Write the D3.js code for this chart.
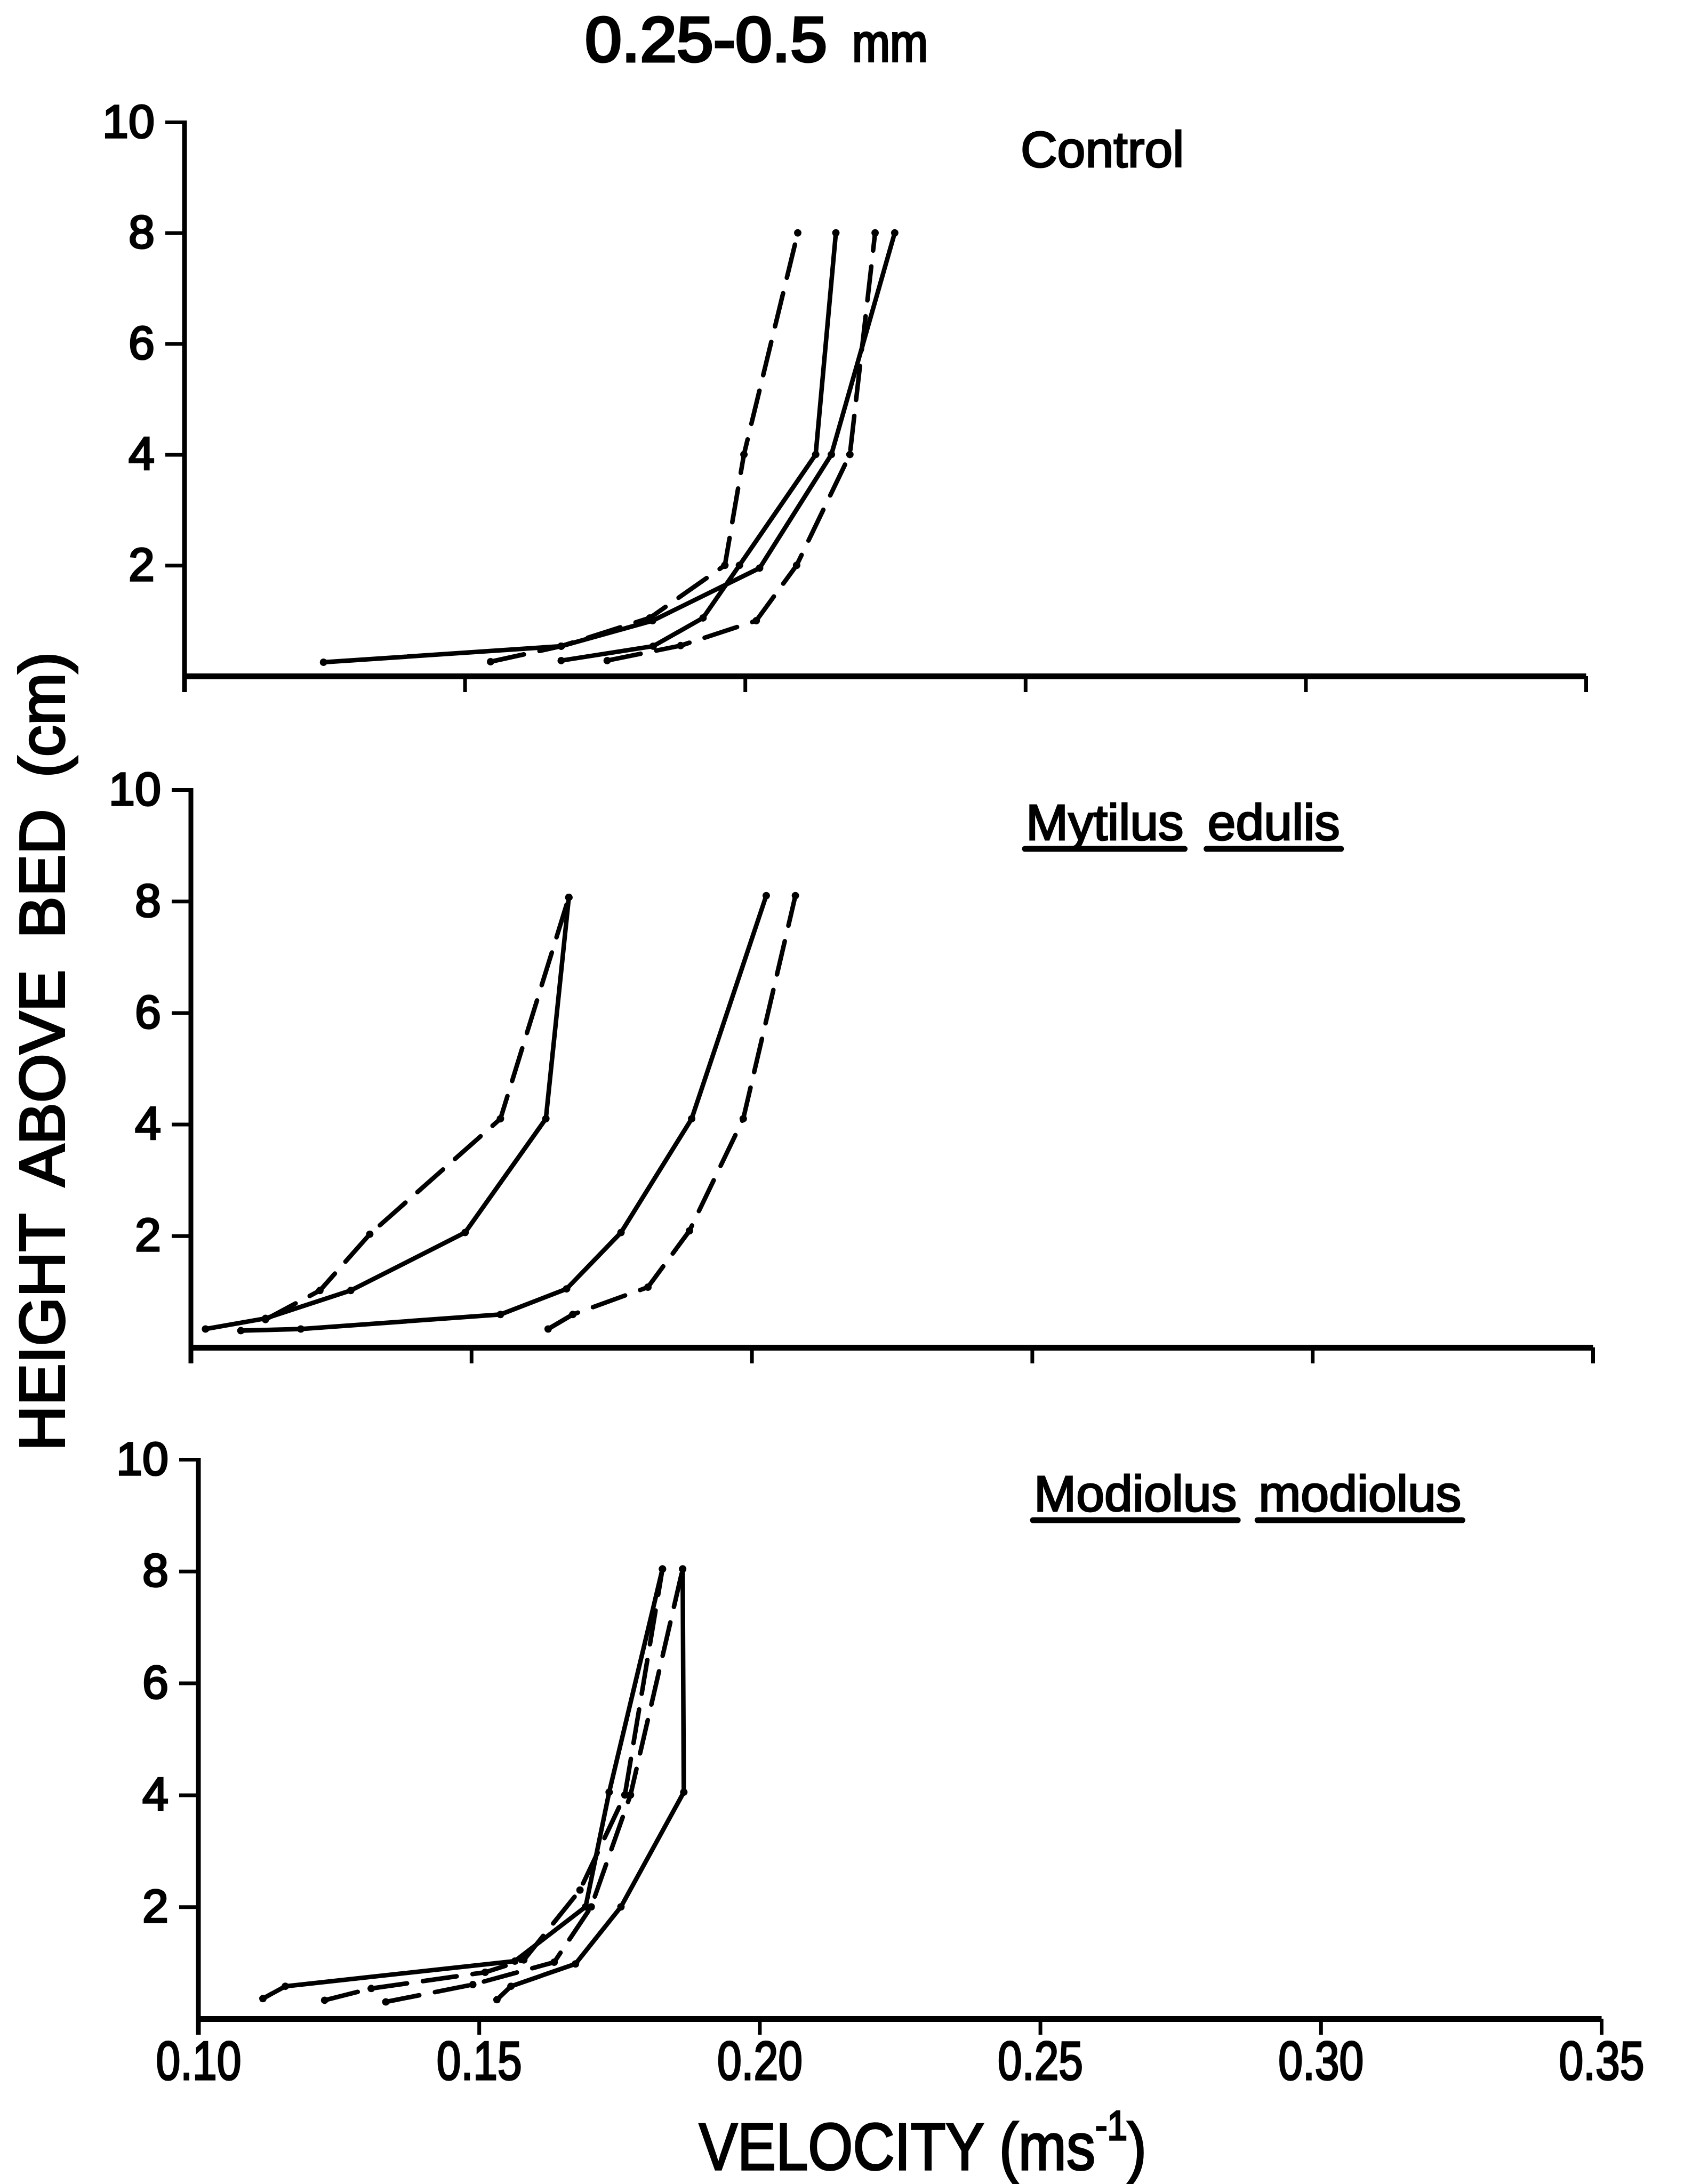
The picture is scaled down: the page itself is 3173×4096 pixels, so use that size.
<!DOCTYPE html>
<html>
<head>
<meta charset="utf-8">
<script src="https://cdn.jsdelivr.net/npm/d3@7"></script>
<style>
  html, body { margin: 0; padding: 0; background: #fff; }
  svg { display: block; }
  text { font-family: "Liberation Sans", Arial, Helvetica, sans-serif; fill: #000; }
</style>
</head>
<body>
<svg id="chart" width="3173" height="4096"></svg>
<script>
// Axis ticks: velocity (m/s) and height above bed (cm)
const velocityTicks = [0.10, 0.15, 0.20, 0.25, 0.30, 0.35];
const heightTicks = [2, 4, 6, 8, 10];
const panelNames = ["Control", "Mytilus edulis", "Modiolus modiolus"];

// Velocity profiles, [velocity m/s, height cm]
const controlSolidA  = [[0.1248, 0.25], [0.1672, 0.54], [0.1835, 1.0], [0.2026, 1.95], [0.2154, 4.0], [0.2267, 8.0]];
const controlSolidB  = [[0.1672, 0.28], [0.1836, 0.54], [0.1925, 1.05], [0.1990, 2.0], [0.2126, 4.0], [0.2162, 8.0]];
const controlDashedA = [[0.1546, 0.26], [0.1672, 0.54], [0.1830, 1.05], [0.1964, 2.0], [0.1998, 4.0], [0.2094, 8.0]];
const controlDashedB = [[0.1754, 0.28], [0.1885, 0.55], [0.2020, 1.0], [0.2092, 2.0], [0.2187, 4.0], [0.2232, 8.0]];

const mytilusSolidA  = [[0.1026, 0.33], [0.1133, 0.52], [0.1285, 1.02], [0.1489, 2.06], [0.1633, 4.1], [0.1674, 8.07]];
const mytilusDashedA = [[0.1133, 0.50], [0.1230, 1.02], [0.1319, 2.03], [0.1552, 4.1], [0.1674, 8.07]];
const mytilusSolidB  = [[0.1089, 0.30], [0.1196, 0.33], [0.1552, 0.59], [0.1670, 1.05], [0.1767, 2.06], [0.1893, 4.1], [0.2026, 8.1]];
const mytilusDashedB = [[0.1637, 0.33], [0.1681, 0.59], [0.1815, 1.08], [0.1889, 2.09], [0.1985, 4.1], [0.2078, 8.1]];

const modiolusSolidA  = [[0.1115, 0.36], [0.1155, 0.58], [0.1564, 1.03], [0.1690, 2.0], [0.1732, 4.05], [0.1827, 8.04]];
const modiolusSolidB  = [[0.1532, 0.34], [0.1557, 0.58], [0.1672, 0.98], [0.1753, 2.0], [0.1865, 4.05], [0.1863, 8.04]];
const modiolusDashedA = [[0.1225, 0.33], [0.1308, 0.54], [0.1511, 0.83], [0.1580, 1.05], [0.1680, 2.3], [0.1760, 4.0], [0.1827, 8.04]];
const modiolusDashedB = [[0.1334, 0.30], [0.1489, 0.61], [0.1634, 1.01], [0.1700, 2.0], [0.1770, 4.0], [0.1863, 8.04]];

const svg = d3.select("#chart");
const ink = "#000";

// Panel frames and label placement
const panels = [
  { name: panelNames[0], frame: { left: 346, right: 2974, top: 229, bottom: 1268 },
    label: { x: 1914, y: 313, underline: false }, tickLabels: false,
    series: [
      { data: controlSolidA, dashed: false }, { data: controlSolidB, dashed: false },
      { data: controlDashedA, dashed: true }, { data: controlDashedB, dashed: true } ] },
  { name: panelNames[1], frame: { left: 358, right: 2987, top: 1481, bottom: 2527 },
    label: { x: 1924, y: 1575, underline: true, gap: 45 }, tickLabels: false,
    series: [
      { data: mytilusSolidA, dashed: false }, { data: mytilusDashedA, dashed: true },
      { data: mytilusSolidB, dashed: false }, { data: mytilusDashedB, dashed: true } ] },
  { name: panelNames[2], frame: { left: 372, right: 3003, top: 2737, bottom: 3786 },
    label: { x: 1939, y: 2834, underline: true, gap: 41 }, tickLabels: true,
    series: [
      { data: modiolusSolidA, dashed: false }, { data: modiolusSolidB, dashed: false },
      { data: modiolusDashedA, dashed: true }, { data: modiolusDashedB, dashed: true } ] }
];

panels.forEach(p => {
  const f = p.frame;
  const x = d3.scaleLinear().domain([0.10, 0.35]).range([f.left, f.right]);
  const y = d3.scaleLinear().domain([0, 10]).range([f.bottom, f.top]);
  const g = svg.append("g");

  // velocity axis
  const xAxis = d3.axisBottom(x).tickValues(velocityTicks).tickSize(30).tickSizeOuter(0)
    .tickPadding(12).tickFormat(p.tickLabels ? d3.format(".2f") : () => "");
  const gx = g.append("g").attr("transform", `translate(0,${f.bottom})`).call(xAxis);
  gx.select(".domain").attr("stroke", ink).attr("stroke-width", 11);
  gx.selectAll(".tick line").attr("stroke", ink).attr("stroke-width", 7);
  if (p.tickLabels) {
    gx.selectAll(".tick text").attr("font-size", 102).attr("fill", ink)
      .attr("stroke", ink).attr("stroke-width", 3.5)
      .attr("textLength", 160).attr("lengthAdjust", "spacingAndGlyphs");
  }

  // height axis (its line runs down past the bed to the length of a tick)
  const yAxis = d3.axisLeft(y).tickValues(heightTicks).tickSize(36).tickSizeOuter(0)
    .tickPadding(20).tickFormat(d3.format("d"));
  const gy = g.append("g").attr("transform", `translate(${f.left},0)`).call(yAxis);
  gy.select(".domain").remove();
  gy.selectAll(".tick line").attr("stroke", ink).attr("stroke-width", 7);
  gy.selectAll(".tick text").attr("font-size", 88).attr("fill", ink)
    .attr("stroke", ink).attr("stroke-width", 3.5);
  g.append("line")
    .attr("x1", f.left).attr("x2", f.left)
    .attr("y1", y(10) - 3).attr("y2", y(0) + 30)
    .attr("stroke", ink).attr("stroke-width", 9);

  // profiles
  const line = d3.line().x(d => x(d[0])).y(d => y(d[1]));
  p.series.forEach(s => {
    g.append("path").datum(s.data)
      .attr("d", line)
      .attr("fill", "none").attr("stroke", ink).attr("stroke-width", 8.5)
      .attr("stroke-linejoin", "round").attr("stroke-linecap", "round")
      .attr("stroke-dasharray", s.dashed ? "64 30" : null);
    g.selectAll(null).data(s.data).enter().append("circle")
      .attr("cx", d => x(d[0])).attr("cy", d => y(d[1])).attr("r", 7)
      .attr("fill", ink);
  });

  // panel label, species names underlined word by word
  if (!p.label.underline) {
    g.append("text").attr("x", p.label.x).attr("y", p.label.y)
      .attr("font-size", 95).attr("stroke", ink).attr("stroke-width", 3).text(p.name);
  } else {
    let cx = p.label.x;
    p.name.split(" ").forEach(word => {
      const t = g.append("text").attr("x", cx).attr("y", p.label.y)
        .attr("font-size", 95).attr("stroke", ink).attr("stroke-width", 3).text(word);
      const w = t.node().getComputedTextLength();
      g.append("line").attr("x1", cx - 2).attr("x2", cx + w + 2)
        .attr("y1", p.label.y + 17).attr("y2", p.label.y + 17)
        .attr("stroke", ink).attr("stroke-width", 11).attr("stroke-linecap", "round");
      cx += w + p.label.gap;
    });
  }
});

// title
svg.append("text").attr("x", 1097).attr("y", 115).attr("font-size", 118)
  .attr("stroke", ink).attr("stroke-width", 5).attr("textLength", 454)
  .attr("lengthAdjust", "spacingAndGlyphs").text("0.25-0.5");
svg.append("text").attr("x", 1598).attr("y", 115).attr("font-size", 100)
  .attr("stroke", ink).attr("stroke-width", 4).attr("textLength", 142)
  .attr("lengthAdjust", "spacingAndGlyphs").text("mm");

// axis titles
svg.append("text")
  .attr("transform", "translate(120,1972) rotate(-90)")
  .attr("text-anchor", "middle").attr("font-size", 118)
  .attr("word-spacing", 26).attr("stroke", ink).attr("stroke-width", 4)
  .text("HEIGHT ABOVE BED (cm)");

const vt = svg.append("text")
  .attr("transform", "translate(1311,4069) scale(0.865,1)")
  .attr("font-size", 125).attr("stroke", ink).attr("stroke-width", 3.5);
vt.append("tspan").text("VELOCITY (ms");
vt.append("tspan").attr("font-size", 78).attr("dy", -56).text("-1");
vt.append("tspan").attr("dy", 56).text(")");
</script>
</body>
</html>
